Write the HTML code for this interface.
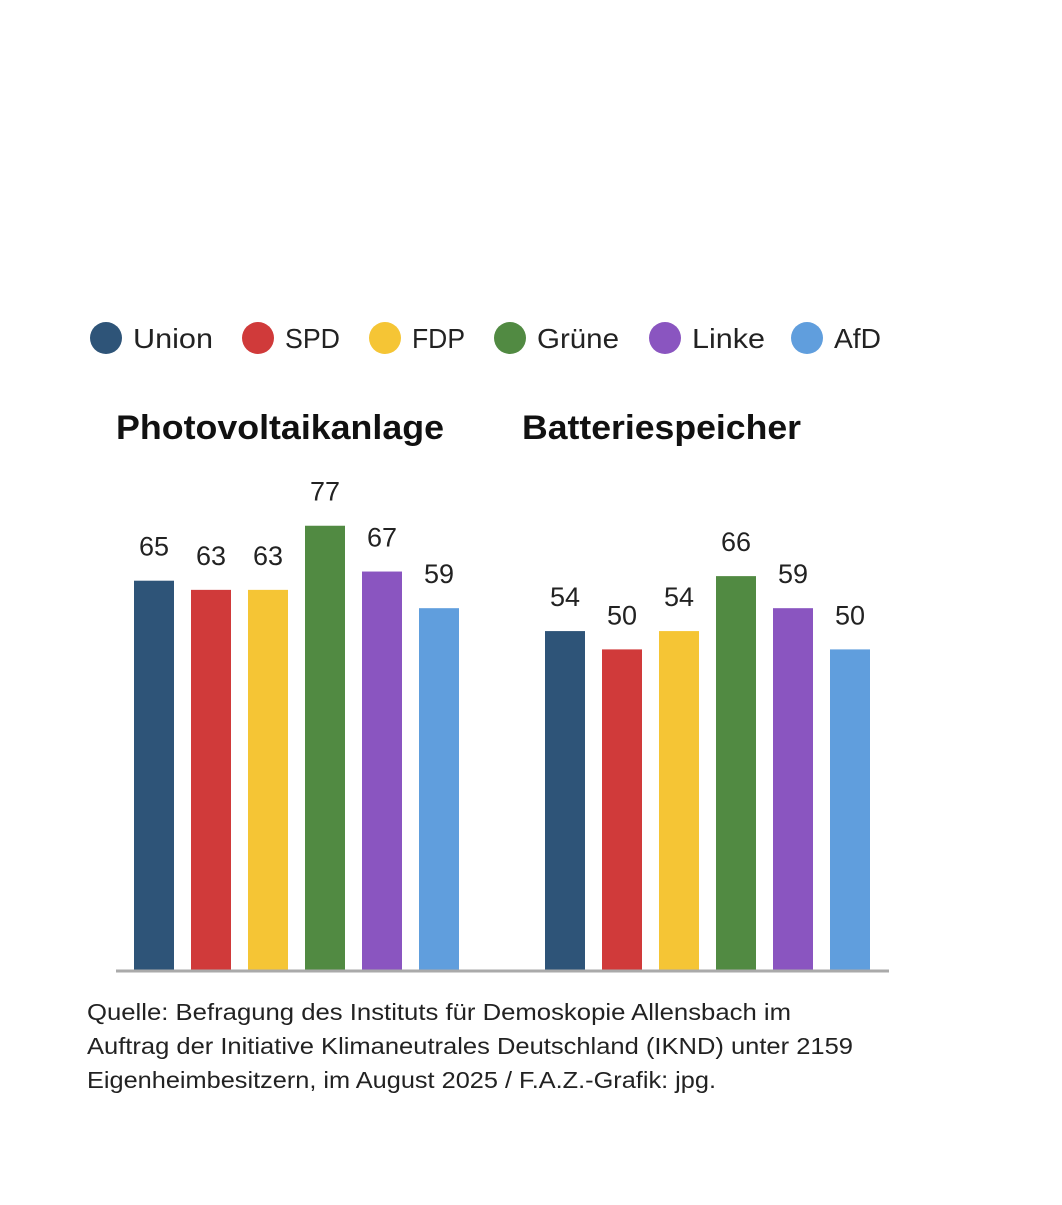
<!DOCTYPE html>
<html><head><meta charset="utf-8"><style>
body{margin:0;background:#fff;width:1062px;height:1200px;overflow:hidden;font-family:"Liberation Sans",sans-serif}
</style></head><body>
<svg id="chart" width="1062" height="1200" xmlns="http://www.w3.org/2000/svg"></svg>
<script>
const parties = ["Union","SPD","FDP","Grüne","Linke","AfD"];
const colors = ["#2e5478","#d03a3a","#f5c535","#518a42","#8a55c0","#609edd"];
const groups = ["Photovoltaikanlage","Batteriespeicher"];
const pvValues = [65,63,63,77,67,59];
const batValues = [54,50,54,66,59,50];
const series = [pvValues, batValues];

const svg = document.getElementById('chart');
const NS = "http://www.w3.org/2000/svg";
function mk(tag, attrs, text){const e=document.createElementNS(NS,tag);for(const k in attrs)e.setAttribute(k,attrs[k]);if(text!==undefined)e.textContent=text;svg.appendChild(e);return e;}
const baseY = 970, scale = 4.58, vMin = -20;
function yScale(v){return baseY - (v - vMin)*scale;}
const groupX0 = [134,545], barW = 40, barStep = 57;
function xScale(g,i){return groupX0[g] + i*barStep;}

// legend
const legX = [106,258,385,510,665,807];
const legW = [80,55,53,82,73,47];
parties.forEach((p,i)=>{
  const c = mk('circle',{cx:legX[i],cy:338,r:16,fill:colors[i]});
  
  
  const t = mk('text',{x:legX[i]+27,y:348,'font-size':28,fill:'#222',textLength:legW[i],lengthAdjust:'spacingAndGlyphs'},p);
  
  
});
// titles
const titleX=[116,522], titleW=[328,279];
groups.forEach((g,gi)=>{
  const t = mk('text',{x:titleX[gi],y:439,'font-size':34,'font-weight':'bold',fill:'#111',textLength:titleW[gi],lengthAdjust:'spacingAndGlyphs'},g);
  
  
});
// bars
series.forEach((vals,g)=>{
  vals.forEach((v,i)=>{
    const x = xScale(g,i), y = yScale(v);
    const r = mk('rect',{x:x,y:y,width:barW,height:baseY-y,fill:colors[i]});
    
    
    const t = mk('text',{x:x+barW/2,y:y-25,'font-size':27,'text-anchor':'middle',fill:'#222'},String(v));
    
    
  });
});
const ax = mk('line',{x1:116,x2:889,y1:baseY+1,y2:baseY+1,stroke:'#aaa','stroke-width':3});


// source
const src = ["Quelle:  Befragung des Instituts für Demoskopie Allensbach im","Auftrag der Initiative Klimaneutrales Deutschland (IKND) unter 2159","Eigenheimbesitzern, im August 2025 /  F.A.Z.-Grafik: jpg."];
const srcW = [704,766,629];
src.forEach((s,i)=>{
  const t = mk('text',{x:87,y:1020+i*34,'font-size':23,fill:'#222',textLength:srcW[i],lengthAdjust:'spacingAndGlyphs'},s);
  
  
});
</script>
</body></html>
